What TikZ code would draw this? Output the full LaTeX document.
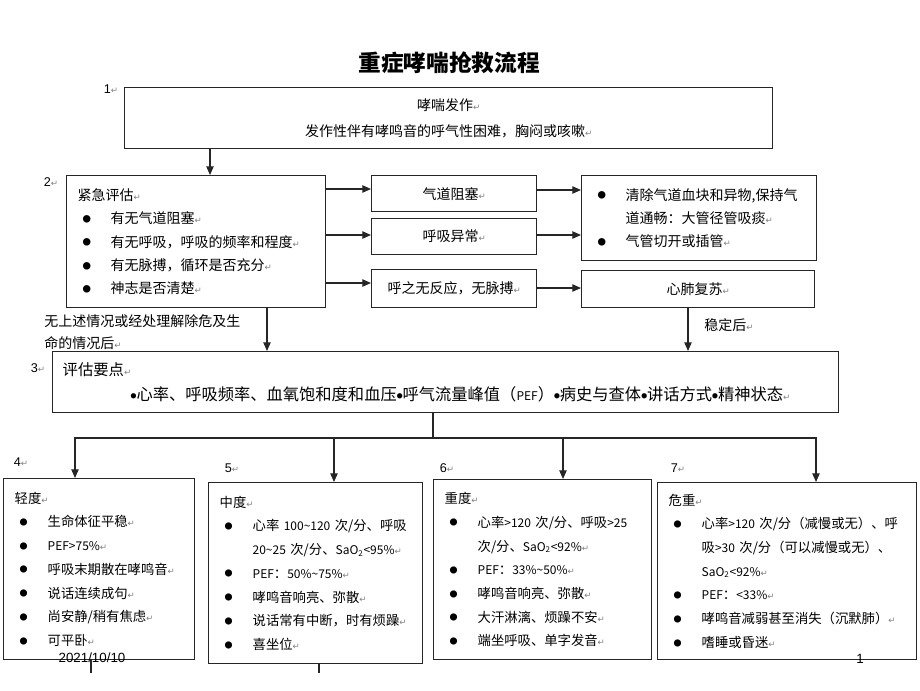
\documentclass[tikz,border=0pt]{standalone}
\usepackage{fontspec}
\usepackage{graphicx}
\usetikzlibrary{arrows.meta}
\setmainfont{Noto Sans CJK SC}
\newfontfamily\symfont{DejaVu Sans}
\newfontfamily\arialfont{Liberation Sans}
\newcommand{\retmark}{{\symfont\fontsize{6.5}{17}\selectfont\textcolor{black!50}{↵}}}
\newcommand{\itm}{\hspace*{3.75pt}\makebox[21pt][l]{\raisebox{1pt}{\scalebox{0.6}{●}}}}
\newcommand{\cnt}{\hspace*{24.75pt}}
\newcommand{\sbul}{\raisebox{1.6pt}{\scalebox{0.36}{●}}}
\newcommand{\lat}[1]{{\fontsize{9}{17}\selectfont #1}}

\begin{document}
\begin{tikzpicture}[x=0.75pt, y=-0.75pt,
    box/.style={draw=black!85, line width=1pt, rectangle, anchor=north west, inner xsep=8.25pt, inner ysep=0pt},
    arr/.style={draw=black!85, line width=0.9pt, -{Triangle[length=6.5pt,width=5.5pt]}},
    link/.style={draw=black!85, line width=0.9pt},
    numlab/.style={font=\arialfont\fontsize{9.5}{10}\selectfont, inner sep=0pt}]
            \useasboundingbox (0,0) rectangle (920,690);

            \node[font=\bfseries\fontsize{17}{20}\selectfont] (title) at (449,63) {重症哮喘抢救流程};

            \node[box, minimum width=486pt, minimum height=45.75pt, align=center, font=\fontsize{10.5}{19.5}\selectfont] (onset) at (124,87) {哮喘发作\retmark\\发作性伴有哮鸣音的呼气性困难，胸闷或咳嗽\retmark};

            \node[box, text width=177.75pt, minimum height=99pt, align=left, font=\fontsize{10.5}{17.6}\selectfont] (assess) at (66,175) {紧急评估\retmark\\
                \itm 有无气道阻塞\retmark\\
                \itm 有无呼吸，呼吸的频率和程度\retmark\\
                \itm 有无脉搏，循环是否充分\retmark\\
                \itm 神志是否清楚\retmark};

            \node[box, minimum width=123.75pt, minimum height=27pt, font=\fontsize{10.5}{12}\selectfont] (obstr) at (371,175) {气道阻塞\retmark};
            \node[box, minimum width=123.75pt, minimum height=27pt, font=\fontsize{10.5}{12}\selectfont] (breath) at (371,218) {呼吸异常\retmark};
            \node[box, minimum width=123.75pt, minimum height=28.5pt, font=\fontsize{10.5}{12}\selectfont] (noresp) at (371,269) {呼之无反应，无脉搏\retmark};

            \node[box, text width=159.75pt, minimum height=63.75pt, align=left, font=\fontsize{10.5}{17.4}\selectfont] (clear) at (581,175) {\itm 清除气道血块和异物,保持气\\
                \cnt 道通畅：大管径管吸痰\retmark\\
                \itm 气管切开或插管\retmark};
            \node[box, minimum width=174.75pt, minimum height=27.75pt, font=\fontsize{10.5}{12}\selectfont] (cpr) at (581,270) {心肺复苏\retmark};

            \node[box, inner xsep=7.5pt, text width=574.5pt, minimum height=45.75pt, align=left, font=\fontsize{11.5}{18.75}\selectfont] (points) at (52,351) {评估要点\retmark\\
                \hspace*{51pt}{\fontsize{12.2}{18.75}\selectfont\sbul 心率、呼吸频率、血氧饱和度和血压\sbul 呼气流量峰值（\lat{PEF}）\sbul 病史与查体\sbul 讲话方式\sbul 精神状态\retmark}};

            \node[box, text width=126.75pt, minimum height=135.75pt, align=left, font=\fontsize{10}{17.8}\selectfont] (mild) at (3,478) {轻度\retmark\\
                \itm 生命体征平稳\retmark\\
                \itm \lat{PEF>75\%}\retmark\\
                \itm 呼吸末期散在哮鸣音\retmark\\
                \itm 说话连续成句\retmark\\
                \itm 尚安静/稍有焦虑\retmark\\
                \itm 可平卧\retmark};
            \node[box, text width=144pt, minimum height=135.75pt, align=left, font=\fontsize{10}{17.8}\selectfont] (moderate) at (208,482) {中度\retmark\\
                \itm 心率~\lat{100\textasciitilde120}~次/分、呼吸\\
                \cnt \lat{20\textasciitilde25}~次/分、\lat{SaO\textsubscript{2}<95\%}\retmark\\
                \itm \lat{PEF}：\lat{50\%\textasciitilde75\%}\retmark\\
                \itm 哮鸣音响亮、弥散\retmark\\
                \itm 说话常有中断，时有烦躁\retmark\\
                \itm 喜坐位\retmark};
            \node[box, text width=147pt, minimum height=135pt, align=left, font=\fontsize{10}{17.8}\selectfont] (severe) at (433,479) {重度\retmark\\
                \itm 心率\lat{>120}~次/分、呼吸\lat{>25}\\
                \cnt 次/分、\lat{SaO\textsubscript{2}<92\%}\retmark\\
                \itm \lat{PEF}：\lat{33\%\textasciitilde50\%}\retmark\\
                \itm 哮鸣音响亮、弥散\retmark\\
                \itm 大汗淋漓、烦躁不安\retmark\\
                \itm 端坐呼吸、单字发音\retmark};
            \node[box, text width=177.75pt, minimum height=132.75pt, align=left, font=\fontsize{10}{17.8}\selectfont] (critical) at (657,482) {危重\retmark\\
                \itm 心率\lat{>120}~次/分（减慢或无）、呼\\
                \cnt 吸\lat{>30}~次/分（可以减慢或无）、\\
                \cnt \lat{SaO\textsubscript{2}<92\%}\retmark\\
                \itm \lat{PEF}：\lat{<33\%}\retmark\\
                \itm 哮鸣音减弱甚至消失（沉默肺）\retmark\\
                \itm 嗜睡或昏迷\retmark};

            \node[numlab] (n1) at (111,89) {1\retmark};
            \node[numlab] (n2) at (51,182) {2\retmark};
            \node[numlab] (n3) at (38,368) {3\retmark};
            \node[numlab] (n4) at (21,462) {4\retmark};
            \node[numlab] (n5) at (232,468) {5\retmark};
            \node[numlab] (n6) at (447,468) {6\retmark};
            \node[numlab] (n7) at (678,468) {7\retmark};

            \node[anchor=west, align=left, inner sep=0pt, font=\fontsize{10.5}{16.5}\selectfont] (cond) at (44,332) {无上述情况或经处理解除危及生\\命的情况后\retmark};
            \node[anchor=west, inner sep=0pt, font=\fontsize{10.5}{12}\selectfont] (stable) at (704,325) {稳定后\retmark};

            \draw[arr] (onset.south -| 210,0) -- (assess.north -| 210,0);
            \draw[arr] (assess.east |- 0,189) -- (obstr.west |- 0,189);
            \draw[arr] (assess.east |- 0,235) -- (breath.west |- 0,235);
            \draw[arr] (assess.east |- 0,283) -- (noresp.west |- 0,283);
            \draw[arr] (obstr.east |- 0,190) -- (clear.west |- 0,190);
            \draw[arr] (breath.east |- 0,235) -- (clear.west |- 0,235);
            \draw[arr] (noresp.east |- 0,288) -- (cpr.west |- 0,288);
            \draw[arr] (assess.south -| 267,0) -- (points.north -| 267,0);
            \draw[arr] (cpr.south -| 688,0) -- (points.north -| 688,0);

            \coordinate (split) at (433,438);
            \draw[link] (points.south -| split) -- (split);
            \draw[arr] (split) -| (mild.north -| 75,0);
            \draw[arr] (split) -| (moderate.north -| 334,0);
            \draw[arr] (split) -| (severe.north -| 563,0);
            \draw[arr] (split) -| (critical.north -| 816,0);

            \draw[link] (mild.south -| 91,0) -- ++(0,13);
            \draw[link] (moderate.south -| 319,0) -- ++(0,9);

            \node[font=\arialfont\fontsize{10}{12}\selectfont, inner sep=0pt] (date) at (92,658) {2021/10/10};
            \node[font=\arialfont\fontsize{10}{12}\selectfont, inner sep=0pt] (page) at (860,659) {1};
        \end{tikzpicture}
\end{document}
